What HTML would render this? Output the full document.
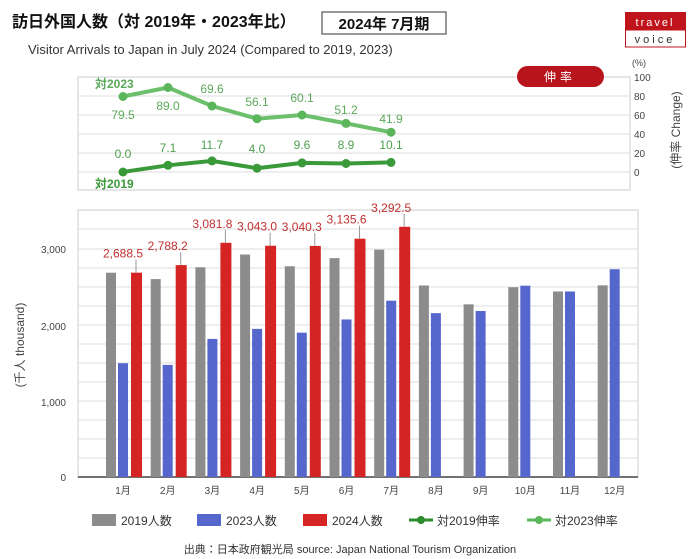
<!DOCTYPE html>
<html><head><meta charset="utf-8"><style>
body{margin:0;background:#fff;width:700px;height:559px;overflow:hidden}
svg{display:block;font-family:"Liberation Sans","Noto Sans CJK JP",sans-serif}
</style></head><body>
<svg width="700" height="559" viewBox="0 0 700 559" xmlns="http://www.w3.org/2000/svg">
<text x="12" y="27" font-size="16" font-weight="bold" fill="#111">訪日外国人数（対 2019年・2023年比）</text>
<rect x="322" y="12" width="124" height="22" fill="#fff" stroke="#555" stroke-width="1.2"/>
<text x="384" y="29" font-size="15" font-weight="bold" text-anchor="middle" fill="#111">2024年 7月期</text>
<text x="28" y="54" font-size="13" fill="#333">Visitor Arrivals to Japan in July 2024 (Compared to 2019, 2023)</text>
<rect x="625" y="12" width="61" height="18" fill="#c0141c"/>
<rect x="625.5" y="30" width="60" height="17" fill="#fff" stroke="#c0141c"/>
<text x="655" y="26" font-size="11" fill="#fff" text-anchor="middle" letter-spacing="2">travel</text>
<text x="655" y="43" font-size="11" fill="#333" text-anchor="middle" letter-spacing="3">voice</text>
<!-- top chart -->
<rect x="78" y="77" width="552" height="113" fill="#fff" stroke="#ccc"/>
<g stroke="#ddd" stroke-width="1">
<line x1="78" y1="96" x2="630" y2="96"/><line x1="78" y1="115" x2="630" y2="115"/><line x1="78" y1="134" x2="630" y2="134"/><line x1="78" y1="153" x2="630" y2="153"/><line x1="78" y1="172" x2="630" y2="172"/>
</g>
<g font-size="10" fill="#444">
<text x="634" y="81">100</text><text x="634" y="100">80</text><text x="634" y="119">60</text><text x="634" y="138">40</text><text x="634" y="157">20</text><text x="634" y="176">0</text>
<text x="632" y="66" font-size="9">(%)</text>
</g>
<text transform="translate(680,130) rotate(-90)" font-size="12" fill="#444" text-anchor="middle">(伸率 Change)</text>
<rect x="517" y="66" width="87" height="21" rx="10.5" fill="#b8141c"/>
<text x="560" y="81" font-size="12" fill="#fff" text-anchor="middle" letter-spacing="4">伸率</text>
<polyline points="123,96.5 168,87.5 212,106 257,118.7 302,115 346,123.4 391,132.2" fill="none" stroke="#6cc06c" stroke-width="4"/>
<g fill="#5bb55b"><circle cx="123" cy="96.5" r="4.5"/><circle cx="168" cy="87.5" r="4.5"/><circle cx="212" cy="106" r="4.5"/><circle cx="257" cy="118.7" r="4.5"/><circle cx="302" cy="115" r="4.5"/><circle cx="346" cy="123.4" r="4.5"/><circle cx="391" cy="132.2" r="4.5"/></g>
<polyline points="123,172 168,165.3 212,160.9 257,168.2 302,162.9 346,163.5 391,162.4" fill="none" stroke="#3a9a3a" stroke-width="4"/>
<g fill="#3a9a3a"><circle cx="123" cy="172" r="4.5"/><circle cx="168" cy="165.3" r="4.5"/><circle cx="212" cy="160.9" r="4.5"/><circle cx="257" cy="168.2" r="4.5"/><circle cx="302" cy="162.9" r="4.5"/><circle cx="346" cy="163.5" r="4.5"/><circle cx="391" cy="162.4" r="4.5"/></g>
<g font-size="12" fill="#5aa85a" text-anchor="middle">
<text x="123" y="119">79.5</text><text x="168" y="110">89.0</text><text x="212" y="93">69.6</text><text x="257" y="106">56.1</text><text x="302" y="102">60.1</text><text x="346" y="114">51.2</text><text x="391" y="123">41.9</text>
</g>
<g font-size="12" fill="#4f9f4f" text-anchor="middle">
<text x="123" y="158">0.0</text><text x="168" y="152">7.1</text><text x="212" y="149">11.7</text><text x="257" y="153">4.0</text><text x="302" y="149">9.6</text><text x="346" y="149">8.9</text><text x="391" y="149">10.1</text>
</g>
<text x="95" y="88" font-size="12" font-weight="bold" fill="#5aa85a">対2023</text>
<text x="95" y="188" font-size="12" font-weight="bold" fill="#3a9a3a">対2019</text>
<!-- bottom chart -->
<rect x="78" y="210" width="560" height="267" fill="#fff" stroke="#ccc"/>
<g stroke="#ddd">
<line x1="78" y1="229" x2="638" y2="229"/><line x1="78" y1="249" x2="638" y2="249"/><line x1="78" y1="268" x2="638" y2="268"/><line x1="78" y1="287" x2="638" y2="287"/><line x1="78" y1="306" x2="638" y2="306"/><line x1="78" y1="325" x2="638" y2="325"/><line x1="78" y1="344" x2="638" y2="344"/><line x1="78" y1="363" x2="638" y2="363"/><line x1="78" y1="382" x2="638" y2="382"/><line x1="78" y1="401" x2="638" y2="401"/><line x1="78" y1="420" x2="638" y2="420"/><line x1="78" y1="439" x2="638" y2="439"/><line x1="78" y1="458" x2="638" y2="458"/>
</g>
<line x1="78" y1="477" x2="638" y2="477" stroke="#444" stroke-width="1.5"/>
<g font-size="10" fill="#444" text-anchor="end">
<text x="66" y="253">3,000</text><text x="66" y="330">2,000</text><text x="66" y="406">1,000</text><text x="66" y="481">0</text>
</g>
<text transform="translate(24,345) rotate(-90)" font-size="12" fill="#444" text-anchor="middle">(千人 thousand)</text>
<g id="bars"></g>
<script>
var g19=[2688,2604,2760,2927,2773,2880,2991,2520,2272,2497,2441,2522];
var g23=[1497,1475,1817,1949,1899,2073,2320,2156,2184,2517,2441,2734];
var g24=[2688.5,2788.2,3081.8,3043.0,3040.3,3135.6,3292.5];
var ns="http://www.w3.org/2000/svg",G=document.getElementById("bars");
function el(t,a,txt){var e=document.createElementNS(ns,t);for(var k in a)e.setAttribute(k,a[k]);if(txt)e.textContent=txt;G.appendChild(e);return e;}
function Y(v){return 477-v*0.076;}
for(var i=0;i<12;i++){var c=123+i*44.7;
el("rect",{x:c-17,y:Y(g19[i]),width:10,height:477-Y(g19[i]),fill:"#8c8c8c"});
el("rect",{x:c-5,y:Y(g23[i]),width:10,height:477-Y(g23[i]),fill:"#5566cc"});
if(i<7){var y=Y(g24[i]);el("rect",{x:c+8,y:y,width:11,height:477-y,fill:"#d42424"});
el("line",{x1:c+13,y1:y,x2:c+13,y2:y-13,stroke:"#999"});
el("text",{x:c,y:y-15,"font-size":"12",fill:"#c03030","text-anchor":"middle"},g24[i].toLocaleString("en-US",{minimumFractionDigits:1}));}
el("text",{x:c,y:494,"font-size":"10",fill:"#444","text-anchor":"middle"},(i+1)+"月");}
</script>
<!-- legend -->
<g font-size="12" fill="#333">
<rect x="92" y="514" width="24" height="12" fill="#8c8c8c"/><text x="121" y="525">2019人数</text>
<rect x="197" y="514" width="24" height="12" fill="#5566cc"/><text x="226" y="525">2023人数</text>
<rect x="303" y="514" width="24" height="12" fill="#d42424"/><text x="332" y="525">2024人数</text>
<line x1="409" y1="520" x2="433" y2="520" stroke="#2e8b2e" stroke-width="3"/><circle cx="421" cy="520" r="4" fill="#2e8b2e"/><text x="437" y="525">対2019伸率</text>
<line x1="527" y1="520" x2="551" y2="520" stroke="#5bb55b" stroke-width="3"/><circle cx="539" cy="520" r="4" fill="#5bb55b"/><text x="555" y="525">対2023伸率</text>
</g>
<text x="350" y="553" font-size="11" fill="#333" text-anchor="middle">出典：日本政府観光局  source: Japan National Tourism Organization</text>
</svg>
</body></html>
